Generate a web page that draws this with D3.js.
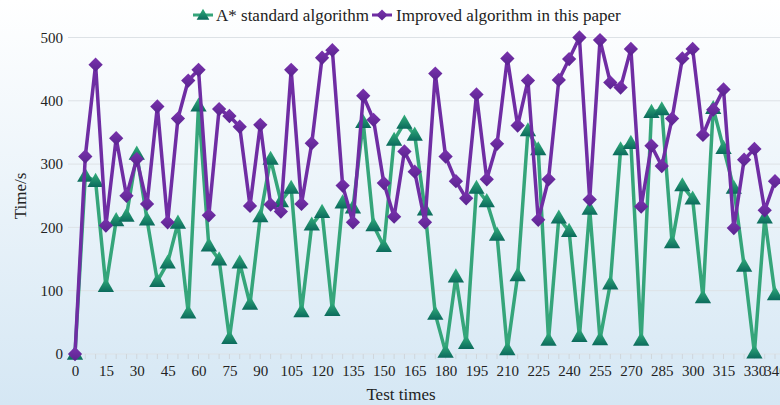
<!DOCTYPE html>
<html>
<head>
<meta charset="utf-8">
<script src="https://cdn.jsdelivr.net/npm/d3@7"></script>
<style>
  html, body { margin: 0; padding: 0; background: #fff; }
  svg { display: block; }
</style>
</head>
<body>
<svg id="chart" width="780" height="405"></svg>
<script>
(() => {
  const testTimes = d3.range(0, 345, 5);
  const xTickValues = [0, 15, 30, 45, 60, 75, 90, 105, 120, 135, 150, 165, 180, 195, 210, 225, 240, 255, 270, 285, 300, 315, 330, 340];
  const yTickValues = [0, 100, 200, 300, 400, 500];
  const seriesNames = ["A* standard algorithm", "Improved algorithm in this paper"];

  const standardTimes = [
    0, 281, 273, 107, 211, 218, 316, 212, 115, 144, 207, 65, 392, 171, 149, 25, 144, 79, 217,
    308, 241, 262, 67, 204, 224, 69, 239, 231, 366, 203, 170, 338, 365, 346, 228, 63, 3, 122,
    17, 262, 241, 188, 7, 124, 353, 323, 22, 215, 194, 28, 229, 23, 111, 323, 333, 22, 382,
    386, 176, 266, 245, 89, 388, 325, 262, 139, 2, 215, 94
  ];
  const improvedTimes = [
    0, 312, 457, 203, 341, 250, 308, 237, 391, 208, 372, 432, 449, 219, 387, 376, 359, 234, 362,
    236, 225, 449, 237, 333, 468, 480, 266, 208, 408, 370, 270, 217, 320, 288, 208, 443, 312, 273,
    246, 410, 276, 332, 467, 361, 432, 212, 276, 433, 466, 500, 244, 496, 429, 421, 482, 233, 329,
    297, 372, 467, 482, 346, 386, 418, 199, 307, 324, 227, 273
  ];

  const width = 780, height = 405;
  const font = "'Liberation Serif', 'Times New Roman', serif";

  const svg = d3.select("#chart").attr("viewBox", [0, 0, width, height]);
  const defs = svg.append("defs");

  const bg = defs.append("linearGradient").attr("id", "bg").attr("x1", 0).attr("y1", 0).attr("x2", 0).attr("y2", 1);
  bg.append("stop").attr("offset", "0%").attr("stop-color", "#ffffff");
  bg.append("stop").attr("offset", "100%").attr("stop-color", "#d5e7f4");

  const gTri = defs.append("linearGradient").attr("id", "gTri").attr("x1", 0).attr("y1", 0).attr("x2", 0).attr("y2", 1);
  gTri.append("stop").attr("offset", "0%").attr("stop-color", "#33b07c");
  gTri.append("stop").attr("offset", "100%").attr("stop-color", "#0b6a5c");

  const gDia = defs.append("linearGradient").attr("id", "gDia").attr("x1", 0).attr("y1", 0).attr("x2", 0).attr("y2", 1);
  gDia.append("stop").attr("offset", "0%").attr("stop-color", "#7a33ad");
  gDia.append("stop").attr("offset", "100%").attr("stop-color", "#5a2390");

  svg.append("rect").attr("width", width).attr("height", height).attr("fill", "url(#bg)");

  const x = d3.scaleLinear().domain([0, 340]).range([75, 775]);
  const y = d3.scaleLinear().domain([0, 500]).range([354, 37.5]);

  // grid
  svg.append("g")
    .selectAll("line")
    .data(yTickValues)
    .join("line")
    .attr("x1", 68).attr("x2", width)
    .attr("y1", d => y(d)).attr("y2", d => y(d))
    .attr("stroke", "#dde2e6")
    .attr("stroke-width", 1);

  // minor ticks under x axis
  svg.append("g")
    .selectAll("line")
    .data(testTimes)
    .join("line")
    .attr("x1", d => x(d)).attr("x2", d => x(d))
    .attr("y1", y(0)).attr("y2", y(0) + 5)
    .attr("stroke", "#cfd6dc");

  const yAxis = svg.append("g")
    .attr("transform", "translate(68,0)")
    .call(d3.axisLeft(y).tickValues(yTickValues).tickSize(0).tickPadding(5));
  yAxis.select(".domain").remove();
  yAxis.selectAll("text").style("font", `15px ${font}`).attr("fill", "#222");

  const xAxis = svg.append("g")
    .attr("transform", `translate(0,${y(0)})`)
    .call(d3.axisBottom(x).tickValues(xTickValues).tickSize(0).tickPadding(11).tickFormat(d3.format("d")));
  xAxis.select(".domain").remove();
  xAxis.selectAll("text").style("font", `15px ${font}`).attr("fill", "#222");

  svg.append("text")
    .attr("transform", `translate(26,196) rotate(-90)`)
    .attr("text-anchor", "middle")
    .style("font", `17px ${font}`)
    .attr("fill", "#222")
    .text("Time/s");

  svg.append("text")
    .attr("x", 401).attr("y", 400)
    .attr("text-anchor", "middle")
    .style("font", `17px ${font}`)
    .attr("fill", "#222")
    .text("Test times");

  const line = d3.line().x((d, i) => x(testTimes[i])).y(d => y(d));

  const tri = d3.symbol().type(d3.symbolTriangle).size(115);
  const dia = d3.symbol().type(d3.symbolDiamond2 || d3.symbolDiamond).size(130);

  const series = [
    { name: seriesNames[0], values: standardTimes, stroke: "#35a57a", fill: "url(#gTri)", sym: tri, dy: 1 },
    { name: seriesNames[1], values: improvedTimes, stroke: "#6f2da3", fill: "url(#gDia)", sym: dia, dy: 0 }
  ];

  series.forEach(s => {
    svg.append("path")
      .attr("d", line(s.values))
      .attr("fill", "none")
      .attr("stroke", s.stroke)
      .attr("stroke-width", 3.5)
      .attr("stroke-linejoin", "round");
    svg.append("g")
      .selectAll("path")
      .data(s.values)
      .join("path")
      .attr("transform", (d, i) => `translate(${x(testTimes[i])},${y(d) + s.dy})`)
      .attr("d", s.sym())
      .attr("fill", s.fill);
  });

  // legend
  const legend = svg.append("g").style("font", `17px ${font}`);
  const items = [
    { x0: 193, tx: 216, s: series[0] },
    { x0: 372, tx: 396, s: series[1] }
  ];
  items.forEach(it => {
    legend.append("line")
      .attr("x1", it.x0).attr("x2", it.x0 + 20)
      .attr("y1", 15).attr("y2", 15)
      .attr("stroke", it.s.stroke).attr("stroke-width", 3);
    legend.append("path")
      .attr("transform", `translate(${it.x0 + 10},${15 + it.s.dy})`)
      .attr("d", it.s.sym === tri ? d3.symbol().type(d3.symbolTriangle).size(70)() : d3.symbol().type(d3.symbolDiamond2 || d3.symbolDiamond).size(80)())
      .attr("fill", it.s.fill);
    legend.append("text")
      .attr("x", it.tx).attr("y", 20.5)
      .attr("fill", "#222")
      .text(it.s.name);
  });
})();
</script>
</body>
</html>
